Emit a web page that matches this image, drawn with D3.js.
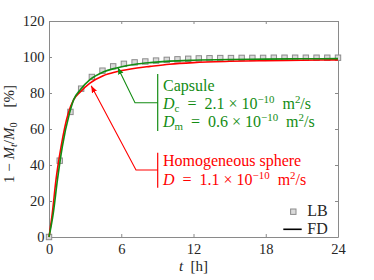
<!DOCTYPE html>
<html>
<head>
<meta charset="utf-8">
<title>Release curves</title>
<script src="https://d3js.org/d3.v7.min.js"></script>
<style>
  body { margin: 0; background: #fff; }
  svg text { font-family: "Liberation Serif", "DejaVu Serif", serif; white-space: pre; }
</style>
</head>
<body>
<div id="chart"></div>
<script>
// data
const xTicks = [0, 6, 12, 18, 24];
const yTicks = [0, 20, 40, 60, 80, 100, 120];

// LB markers
const lbTime = [0, 0.89, 1.78, 2.67, 3.56, 4.44, 5.33, 6.22, 7.11, 8.0, 8.89, 9.78, 10.67, 11.56,
                12.44, 13.33, 14.22, 15.11, 16.0, 16.89, 17.78, 18.67, 19.56, 20.44, 21.33, 22.22, 23.11, 24.0];
const lbRelease = [0, 42.4, 69.5, 82.4, 88.9, 92.4, 94.8, 96.2, 97.0, 97.5, 98.0, 98.4, 98.7, 99.0,
                   99.2, 99.3, 99.4, 99.4, 99.5, 99.5, 99.5, 99.6, 99.6, 99.6, 99.6, 99.6, 99.6, 99.6];

// FD capsule curve (green)
const capsuleTime = [0, 0.35, 0.7, 1.1, 1.7, 2.05, 2.6, 3.4, 4.5, 5.6, 7.3, 8.4, 10, 12, 15, 18, 21, 24];
const capsuleRelease = [0, 13, 31.7, 50, 68.7, 76.3, 81.8, 87.4, 91.7, 93.9, 96.1, 96.9, 97.7, 98.2, 98.6, 98.8, 99.0, 99.1];

// FD homogeneous sphere curve (red)
const sphereTime = [0, 0.27, 0.58, 1.0, 1.6, 2.05, 2.6, 3.4, 4.5, 5.6, 7.3, 8.4, 10, 12, 15, 18, 21, 24];
const sphereRelease = [0, 13, 31.7, 50, 68.7, 76.3, 80.6, 85.5, 89.6, 91.8, 93.9, 94.8, 96.0, 96.9, 97.6, 98.0, 98.2, 98.4];

const W = 374, H = 280;
const green = "#138c13", red = "#ff0000", axisGray = "#8a8a8a", ink = "#262626";
const fs = 14.5;   // tick labels
const ls = 15;     // axis labels
const ts = 16;     // annotations and legend
const serif = "'Liberation Serif', 'DejaVu Serif', serif";

const svg = d3.select("#chart").append("svg")
    .attr("width", W)
    .attr("height", H);

const x = d3.scaleLinear().domain([0, 24]).range([49, 338]);
const y = d3.scaleLinear().domain([0, 120]).range([237, 21]);

// arrow heads
const defs = svg.append("defs");
[["arrowGreen", green], ["arrowRed", red]].forEach(function(a) {
    defs.append("marker")
        .attr("id", a[0])
        .attr("viewBox", "0 0 10 10")
        .attr("refX", 10).attr("refY", 5)
        .attr("markerWidth", 7).attr("markerHeight", 7)
        .attr("markerUnits", "userSpaceOnUse")
        .attr("orient", "auto")
        .append("path")
        .attr("d", "M0,1 L10,5 L0,9 Z")
        .attr("fill", a[1]);
});

// axes, ticks inside on all four sides
function styleAxis(g) {
    g.select(".domain").attr("stroke", axisGray).attr("stroke-width", 1);
    g.selectAll(".tick line").attr("stroke", axisGray);
    g.selectAll(".tick text").attr("fill", ink).attr("font-size", fs)
        .style("font-family", serif);
}
svg.append("g").attr("transform", "translate(0,237)")
    .call(d3.axisBottom(x).tickValues(xTicks).tickSizeInner(-3).tickSizeOuter(0).tickPadding(6.5))
    .call(styleAxis);
svg.append("g").attr("transform", "translate(49,0)")
    .call(d3.axisLeft(y).tickValues(yTicks).tickSizeInner(-3).tickSizeOuter(0).tickPadding(4.5))
    .call(styleAxis);
svg.append("g").attr("transform", "translate(0,21)")
    .call(d3.axisTop(x).tickValues(xTicks).tickSizeInner(-3).tickSizeOuter(0).tickFormat(""))
    .call(styleAxis);
svg.append("g").attr("transform", "translate(338,0)")
    .call(d3.axisRight(y).tickValues(yTicks).tickSizeInner(-3).tickSizeOuter(0).tickFormat(""))
    .call(styleAxis);

// LB markers
svg.append("g").selectAll("rect")
    .data(lbTime)
    .join("rect")
    .attr("x", function(d) { return x(d) - 2.7; })
    .attr("y", function(d, i) { return y(lbRelease[i]) - 2.7; })
    .attr("width", 5.4).attr("height", 5.4)
    .attr("fill", "#dadada")
    .attr("stroke", "#8c8c8c")
    .attr("stroke-width", 1);

// FD curves
const line = d3.line()
    .x(function(d) { return x(d[0]); })
    .y(function(d) { return y(d[1]); })
    .curve(d3.curveMonotoneX);

svg.append("path")
    .datum(d3.zip(sphereTime, sphereRelease))
    .attr("d", line)
    .attr("fill", "none").attr("stroke", red).attr("stroke-width", 1.6);
svg.append("path")
    .datum(d3.zip(capsuleTime, capsuleRelease))
    .attr("d", line)
    .attr("fill", "none").attr("stroke", green).attr("stroke-width", 1.6);

// text with simple math parts: [string, kind] kind = r | i | sub | isub | sup
function mathText(parent, tx, ty, parts, color, size) {
    const t = parent.append("text")
        .attr("x", tx).attr("y", ty)
        .attr("fill", color)
        .attr("font-size", size)
        .style("font-family", serif);
    let shift = 0;
    parts.forEach(function(p) {
        const s = t.append("tspan").text(p[0]);
        let target = 0;
        if (p[1] === "sub" || p[1] === "isub") target = size * 0.22;
        if (p[1] === "sup") target = -size * 0.33;
        if (target !== shift) { s.attr("dy", target - shift); shift = target; }
        if (p[1] === "i" || p[1] === "isub") s.attr("font-style", "italic");
        if (p[1] === "sub" || p[1] === "isub" || p[1] === "sup") s.attr("font-size", size * 0.68);
    });
    return t;
}

// axis labels
mathText(svg, 193.5, 270.5, [["t", "i"], ["\u2002[h]", "r"]], ink, ls).attr("text-anchor", "middle");
mathText(svg.append("g").attr("transform", "translate(13.5,134) rotate(-90)"), 0, 0,
    [["1 − ", "r"], ["M", "i"], ["t", "isub"], ["/", "r"], ["M", "i"], ["0", "sub"], ["\u2002\u2002[%]", "r"]],
    ink, ls).attr("text-anchor", "middle");

// capsule annotation
svg.append("line").attr("x1", 157.7).attr("x2", 157.7).attr("y1", 74).attr("y2", 131)
    .attr("stroke", green).attr("stroke-width", 1.2);
svg.append("path")
    .attr("d", d3.line()([[157.7, 102.7], [135, 102.7], [117.8, 67.5]]))
    .attr("fill", "none").attr("stroke", green).attr("stroke-width", 1.1)
    .attr("marker-end", "url(#arrowGreen)");
mathText(svg, 163, 90.5, [["Capsule", "r"]], green, ts);
mathText(svg, 163, 108.5, [["D", "i"], ["c", "sub"], ["\u2002=\u20022.1 × 10", "r"], ["−10", "sup"], ["\u2002m", "r"], ["2", "sup"], ["/s", "r"]], green, ts);
mathText(svg, 163, 126.5, [["D", "i"], ["m", "sub"], ["\u2002=\u20020.6 × 10", "r"], ["−10", "sup"], ["\u2002m", "r"], ["2", "sup"], ["/s", "r"]], green, ts);

// homogeneous sphere annotation
svg.append("line").attr("x1", 157.7).attr("x2", 157.7).attr("y1", 152.7).attr("y2", 187.7)
    .attr("stroke", red).attr("stroke-width", 1.2);
svg.append("path")
    .attr("d", d3.line()([[157.7, 170], [136, 170], [91.2, 85.8]]))
    .attr("fill", "none").attr("stroke", red).attr("stroke-width", 1.1)
    .attr("marker-end", "url(#arrowRed)");
mathText(svg, 163, 166, [["Homogeneous sphere", "r"]], red, ts);
mathText(svg, 163, 184.5, [["D", "i"], ["\u2002=\u20021.1 × 10", "r"], ["−10", "sup"], ["\u2002m", "r"], ["2", "sup"], ["/s", "r"]], red, ts);

// legend
const legend = svg.append("g");
legend.append("rect").attr("x", 293.3 - 2.7).attr("y", 211.7 - 2.7).attr("width", 5.4).attr("height", 5.4)
    .attr("fill", "#dadada").attr("stroke", "#8c8c8c");
legend.append("line").attr("x1", 283.3).attr("x2", 301.7).attr("y1", 229.3).attr("y2", 229.3)
    .attr("stroke", "#000").attr("stroke-width", 1.6);
mathText(legend, 307.3, 216, [["LB", "r"]], ink, ts);
mathText(legend, 307.3, 233.5, [["FD", "r"]], ink, ts);
</script>
</body>
</html>
